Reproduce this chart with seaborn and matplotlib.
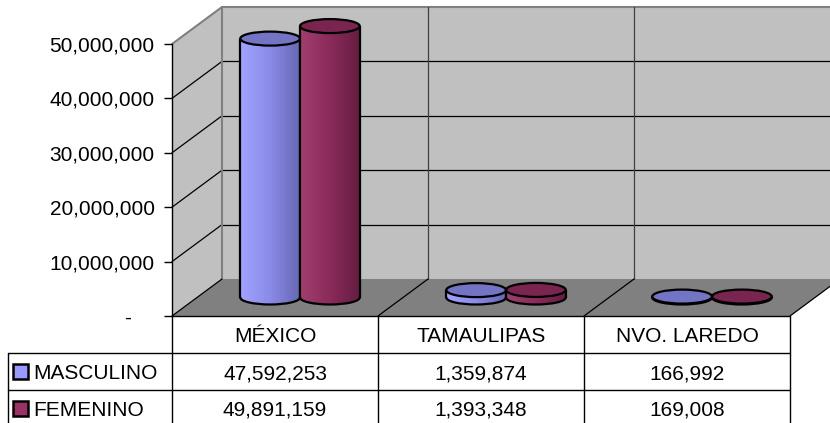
import numpy as np
import pandas as pd
import matplotlib
matplotlib.use("Agg")
import matplotlib.pyplot as plt
import seaborn as sns
from matplotlib.patches import Polygon, Ellipse, Rectangle
from matplotlib.colors import LinearSegmentedColormap
from matplotlib.ticker import FuncFormatter

# datos
regiones = ["MÉXICO", "TAMAULIPAS", "NVO. LAREDO"]
series = ["MASCULINO", "FEMENINO"]
masculino = [47592253, 1359874, 166992]
femenino = [49891159, 1393348, 169008]
yticks = [0, 10000000, 20000000, 30000000, 40000000, 50000000]

df = pd.DataFrame({
    "region": regiones * 2,
    "sexo": [series[0]] * 3 + [series[1]] * 3,
    "poblacion": masculino + femenino,
})

sns.set_theme(style="white")
plt.rcParams["font.family"] = ["Liberation Sans", "DejaVu Sans"]
plt.rcParams["text.color"] = "black"
plt.rcParams["ytick.color"] = "black"
plt.rcParams["ytick.labelcolor"] = "black"

W, H = 830, 423
fig = plt.figure(figsize=(W / 100, H / 100), dpi=100)

# geometria del "3D" (pixeles)
X0, X1 = 172, 790          # borde frontal
Y0, Y50 = 316, 44          # 0 y 50M en el plano frontal
DX, DY = 50, -37           # desplazamiento hacia la pared del fondo
ymax = yticks[-1]
s = (Y0 - Y50) / ymax
ncat = len(regiones)
cw = (X1 - X0) / ncat

# fondo: paredes, piso, tabla
bg = fig.add_axes([0, 0, 1, 1])
bg.set_xlim(0, W)
bg.set_ylim(H, 0)
bg.axis("off")

wall = "#C0C0C0"
floor = "#808080"
bg.add_patch(Polygon([(X0, Y50), (X0 + DX, Y50 + DY), (X0 + DX, Y0 + DY), (X0, Y0)],
                     closed=True, fc=wall, ec="none"))
bg.add_patch(Polygon([(X0 + DX, Y50 + DY), (X1 + DX, Y50 + DY), (X1 + DX, Y0 + DY), (X0 + DX, Y0 + DY)],
                     closed=True, fc=wall, ec="none"))
bg.add_patch(Polygon([(X0, Y0), (X0 + DX, Y0 + DY), (X1 + DX, Y0 + DY), (X1, Y0)],
                     closed=True, fc=floor, ec="none"))

for t in yticks[1:-1]:
    yf = Y0 - t * s
    bg.plot([X0, X0 + DX], [yf, yf + DY], color="black", lw=0.9)
    bg.plot([X0 + DX, X1 + DX], [yf + DY, yf + DY], color="black", lw=0.9)
bg.plot([X0, X0 + DX, X1 + DX], [Y50, Y50 + DY, Y50 + DY], color="#808080", lw=1.5)
bg.plot([X0 + DX, X0 + DX], [Y50 + DY, Y0 + DY], color="#808080", lw=1.5)
for i in range(1, ncat):
    xb = X0 + i * cw + DX
    bg.plot([xb, xb], [Y50 + DY, Y0 + DY], color="#404040", lw=0.9)
for i in range(ncat + 1):
    xf = X0 + i * cw
    bg.plot([xf, xf + DX], [Y0, Y0 + DY], color="black", lw=0.9)

# tabla de datos
bg.plot([X0, X1], [Y0, Y0], color="black", lw=1)
for i in range(ncat + 1):
    xf = X0 + i * cw
    bg.plot([xf, xf], [Y0, H], color="black", lw=1)
for yl in [353, 390]:
    bg.plot([8, X1], [yl, yl], color="black", lw=1)
bg.plot([8, 8], [353, H], color="black", lw=1)

for i, r in enumerate(regiones):
    bg.text(X0 + (i + 0.5) * cw, 342.5, r, ha="center", va="baseline", fontsize=15)
for vals, yb in [(masculino, 379), (femenino, 416)]:
    for i, v in enumerate(vals):
        bg.text(X0 + (i + 0.5) * cw, yb, f"{v:,}", ha="center", va="baseline", fontsize=15)

c_m, c_f = "#9999FF", "#993366"
for lab, col, yc in [(series[0], c_m, 372), (series[1], c_f, 409)]:
    bg.add_patch(Rectangle((13, yc - 7.5), 15, 15, fc=col, ec="black", lw=1.8))
    bg.text(33, yc + 7, lab, ha="left", va="baseline", fontsize=15)

# barras (cilindros) en el plano medio
ylo, yhi = -4e6, 53e6
zero_mid = Y0 + DY / 2
top_px = zero_mid - yhi * s
bot_px = zero_mid - ylo * s
ax = fig.add_axes([(X0 + DX / 2) / W, 1 - bot_px / H, (X1 - X0) / W, (bot_px - top_px) / H])
ax.patch.set_alpha(0)

sns.barplot(data=df, x="region", y="poblacion", hue="sexo", hue_order=series,
            palette=[c_m, c_f], width=0.58, saturation=1, legend=False, ax=ax)

cmaps = [LinearSegmentedColormap.from_list("m", ["#A2A2FF", "#8A8AE8", "#6868B4"]),
         LinearSegmentedColormap.from_list("f", ["#A23E70", "#8A2B5A", "#661D42"])]
tops = ["#7474C4", "#7A2450"]
grad = np.linspace(0, 1, 64).reshape(1, -1)
eh = 14 / s  # alto de la elipse en unidades de datos

for k, cont in enumerate(ax.containers):
    z = 2 + 5 * k
    for bar in cont:
        x, w, h = bar.get_x(), bar.get_width(), bar.get_height()
        bar.set_facecolor("none")
        bar.set_edgecolor("none")
        cx = x + w / 2
        base = Ellipse((cx, 0), w, eh, fc="none", ec="none")
        ax.add_patch(base)
        im = ax.imshow(grad, cmap=cmaps[k], extent=[x, x + w, -eh / 2, eh / 2],
                       aspect="auto", zorder=z, interpolation="bilinear")
        im.set_clip_path(base)
        ax.add_patch(Ellipse((cx, 0), w, eh, fc="none", ec="black", lw=1.6, zorder=z))
        if h > 0:
            ax.imshow(grad, cmap=cmaps[k], extent=[x, x + w, 0, h],
                      aspect="auto", zorder=z + 1, interpolation="bilinear")
            ax.vlines([x, x + w], 0, h, color="black", lw=1.6, zorder=z + 2)
        ax.add_patch(Ellipse((cx, h), w, eh, fc=tops[k], ec="black", lw=1.6, zorder=z + 3))

ax.set_xlim(-0.5, ncat - 0.5)
ax.set_ylim(ylo, yhi)
ax.axis("off")

# eje de valores (plano frontal)
axf = fig.add_axes([X0 / W, 1 - Y0 / H, (X1 - X0) / W, (Y0 - Y50) / H])
axf.patch.set_alpha(0)
axf.set_ylim(0, ymax)
axf.set_xticks([])
axf.set_yticks(yticks)
axf.yaxis.set_major_formatter(FuncFormatter(lambda v, p: "-    " if v == 0 else f"{int(v):,}"))
for sp in ["top", "right", "bottom"]:
    axf.spines[sp].set_visible(False)
axf.spines["left"].set_color("black")
axf.spines["left"].set_linewidth(1)
axf.tick_params(axis="y", left=True, length=6, width=1, color="black", labelcolor="black",
                direction="out", labelsize=15, pad=6.5)

fig.savefig("out.png", dpi=100)
